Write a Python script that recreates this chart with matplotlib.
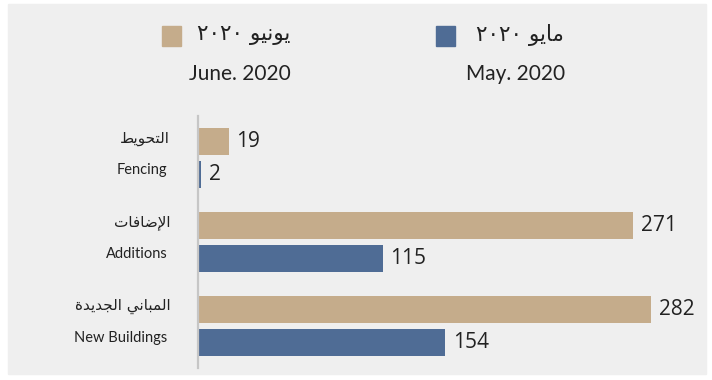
import matplotlib
matplotlib.use("Agg")
import matplotlib.pyplot as plt
from matplotlib.patches import Rectangle
import numpy as np

categories_en = ["Fencing", "Additions", "New Buildings"]
categories_ar = ["التحويط", "الإضافات", "المباني الجديدة"]
may_2020 = [2, 115, 154]
june_2020 = [19, 271, 282]
legend_ar = ["مايو ٢٠٢٠", "يونيو ٢٠٢٠"]
legend_en = ["May. 2020", "June. 2020"]

BLUE = "#4f6c95"
TAN = "#c5ac8b"
PANEL = "#efefef"
TXT = "#222222"

# matplotlib has no Arabic shaping, so pick presentation forms by hand
FORMS = {
    "ا": ("\uFE8D", "\uFE8E"),
    "إ": ("\uFE87", "\uFE88"),
    "ب": ("\uFE8F", "\uFE90", "\uFE91", "\uFE92"),
    "ة": ("\uFE93", "\uFE94"),
    "ت": ("\uFE95", "\uFE96", "\uFE97", "\uFE98"),
    "ج": ("\uFE9D", "\uFE9E", "\uFE9F", "\uFEA0"),
    "ح": ("\uFEA1", "\uFEA2", "\uFEA3", "\uFEA4"),
    "د": ("\uFEA9", "\uFEAA"),
    "ض": ("\uFEBD", "\uFEBE", "\uFEBF", "\uFEC0"),
    "ط": ("\uFEC1", "\uFEC2", "\uFEC3", "\uFEC4"),
    "ف": ("\uFED1", "\uFED2", "\uFED3", "\uFED4"),
    "ل": ("\uFEDD", "\uFEDE", "\uFEDF", "\uFEE0"),
    "م": ("\uFEE1", "\uFEE2", "\uFEE3", "\uFEE4"),
    "ن": ("\uFEE5", "\uFEE6", "\uFEE7", "\uFEE8"),
    "و": ("\uFEED", "\uFEEE"),
    "ي": ("\uFEF1", "\uFEF2", "\uFEF3", "\uFEF4"),
}
LAM_ALEF = {"ا": ("\uFEFB", "\uFEFC"), "إ": ("\uFEF9", "\uFEFA")}


def shape_word(word):
    units = []
    i = 0
    while i < len(word):
        c = word[i]
        if c == "ل" and i + 1 < len(word) and word[i + 1] in LAM_ALEF:
            units.append(("la", word[i + 1]))
            i += 2
        else:
            units.append(("ch", c))
            i += 1
    out = []
    for k, (kind, c) in enumerate(units):
        prev = units[k - 1] if k > 0 else None
        nxt = units[k + 1] if k + 1 < len(units) else None
        join_prev = prev is not None and prev[0] == "ch" and len(FORMS.get(prev[1], ())) == 4
        if kind == "la":
            iso, fin = LAM_ALEF[c]
            out.append(fin if join_prev else iso)
            continue
        forms = FORMS.get(c)
        if forms is None:
            out.append(c)
            continue
        join_next = len(forms) == 4 and nxt is not None and (nxt[0] == "la" or nxt[1] in FORMS)
        if join_prev and join_next:
            out.append(forms[3])
        elif join_prev:
            out.append(forms[1])
        elif join_next:
            out.append(forms[2])
        else:
            out.append(forms[0])
    return "".join(out)


def rtl(text):
    words = []
    for w in text.split(" "):
        if any(ch in FORMS for ch in w):
            words.append(shape_word(w)[::-1])
        else:
            words.append(w)
    return " ".join(words[::-1])


plt.rcParams["font.family"] = ["Open Sans", "DejaVu Sans"]

W, H = 712, 380
fig = plt.figure(figsize=(W / 100, H / 100), dpi=100, facecolor="white")
fig.patches.append(Rectangle((8 / W, 1 - 374 / H), 698 / W, 370 / H,
                             transform=fig.transFigure, color=PANEL, zorder=-10))

ax = fig.add_axes([198 / W, 12 / H, 482 / W, 252 / H])
ax.set_facecolor("none")

y = np.arange(len(categories_en))
off = 0.196
bh = 0.32
ax.barh(y - off, june_2020, height=bh, color=TAN)
ax.barh(y + off, may_2020, height=bh, color=BLUE)

for yi, v in zip(y - off, june_2020):
    ax.annotate(str(v), (v, yi), xytext=(5.5, 0), textcoords="offset points",
                va="center", ha="left", fontsize=15, color=TXT)
for yi, v in zip(y + off, may_2020):
    ax.annotate(str(v), (v, yi), xytext=(5.5, 0), textcoords="offset points",
                va="center", ha="left", fontsize=15, color=TXT)

ax.set_xlim(0, 300)
ax.set_ylim(2.5, -0.5)
for s in ["top", "right", "bottom"]:
    ax.spines[s].set_visible(False)
ax.spines["left"].set_color("#c6c6c6")
ax.spines["left"].set_linewidth(1.6)
ax.set_xticks([])
ax.set_yticks([])

# two-line category labels to the left of the axis
for yi, ar, en in zip(y, categories_ar, categories_en):
    ax.annotate(rtl(ar), (0, yi - off), xytext=(-20, 2), textcoords="offset points",
                xycoords=("axes fraction", "data"),
                ha="right", va="center", fontsize=11, color=TXT, family="DejaVu Sans")
    ax.annotate(en, (0, yi + off), xytext=(-22, 3), textcoords="offset points",
                xycoords=("axes fraction", "data"),
                ha="right", va="center", fontsize=10.5, color=TXT, family="Lato")

# legend: swatch, Arabic name, English name underneath
legend_pos = [(436, 564), (162, 290)]
for (sx, tx), col, ar, en in zip(legend_pos, [BLUE, TAN], legend_ar, legend_en):
    fig.patches.append(Rectangle((sx / W, 1 - 45.5 / H), 19 / W, 20 / H,
                                 transform=fig.transFigure, color=col, zorder=2))
    fig.text(tx / W, 1 - 35 / H, rtl(ar), ha="right", va="center",
             fontsize=15.5, color=TXT, family="DejaVu Sans")
    fig.text((tx + 1) / W, 1 - 74 / H, en, ha="right", va="center",
             fontsize=15, color=TXT, family="Lato")

fig.savefig("out.png", dpi=100, facecolor=fig.get_facecolor())
